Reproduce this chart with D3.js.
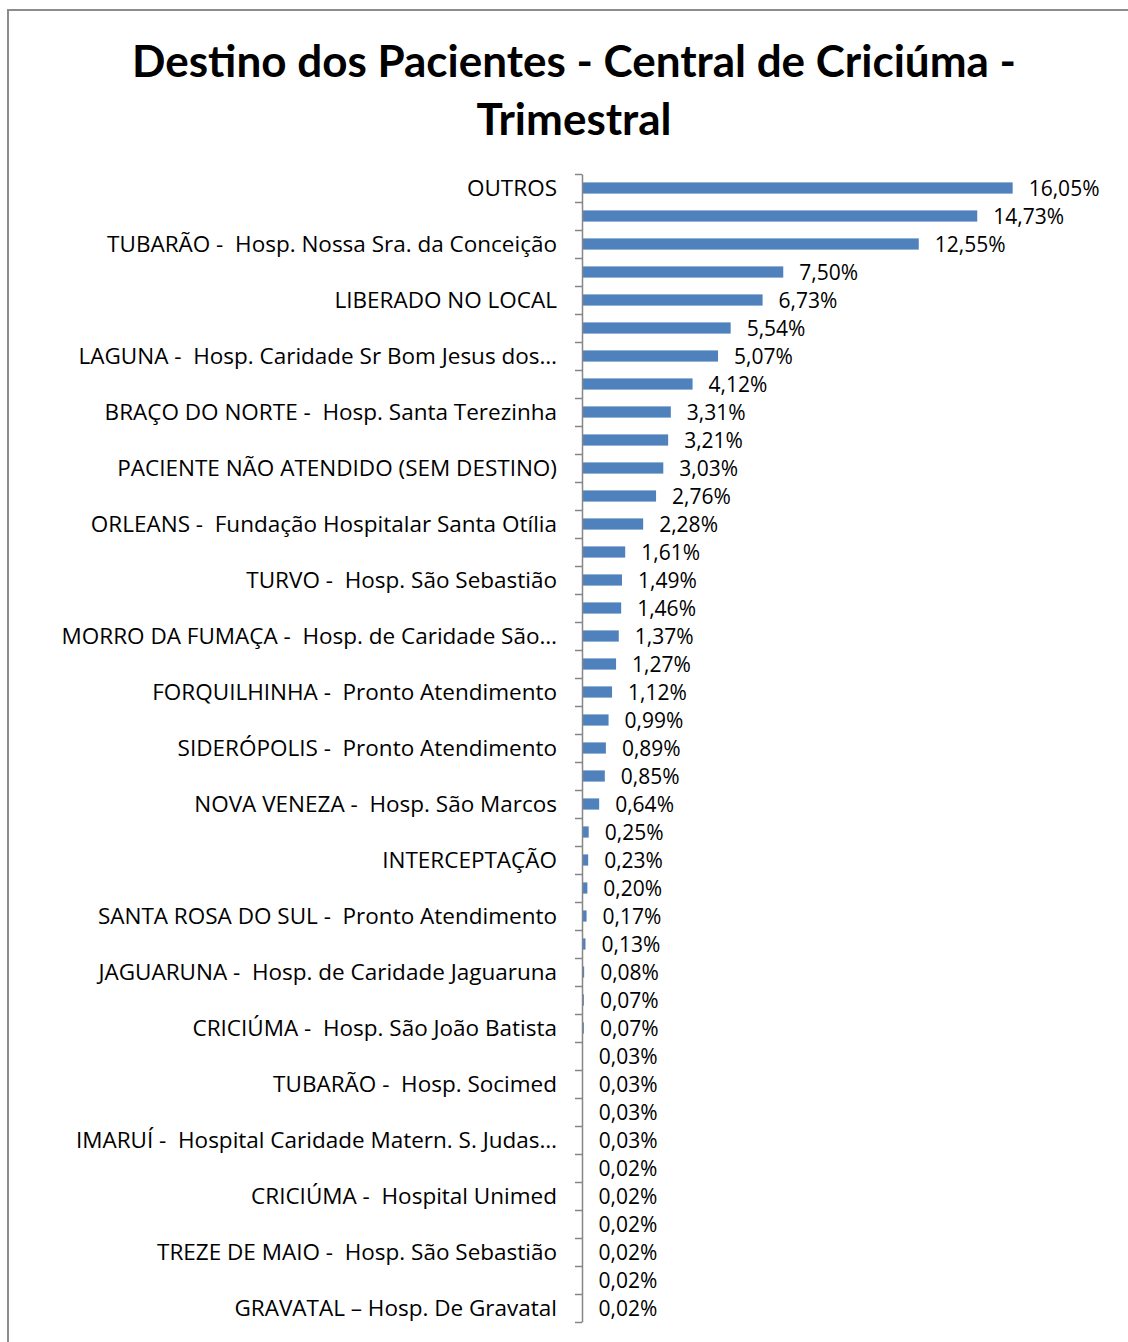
<!DOCTYPE html>
<html lang="pt">
<head>
<meta charset="utf-8">
<style>
  body { margin: 0; background: white; }
  svg { font-family: 'Lato', 'Open Sans', sans-serif; }
  .frame { fill: none; stroke: #8c8c8c; stroke-width: 2px; }
  .axis path, .axis line { stroke: #868686; stroke-width: 1.5px; }
  .bar { fill: #4f81bd; }
  .cat, .val { fill: #000; font-family: 'Open Sans', sans-serif; white-space: pre; }
  .cat { font-size: 22.5px; }
  .val { font-size: 21px; }
  .title { font-weight: bold; font-size: 44px; fill: #000; }
</style>
</head>
<body>
<svg width="1128" height="1342"></svg>
<script src="https://d3js.org/d3.v7.min.js"></script>
<script>
// every other category label is hidden in the original chart
var categories = [
  "OUTROS", "",
  "TUBARÃO -  Hosp. Nossa Sra. da Conceição", "",
  "LIBERADO NO LOCAL", "",
  "LAGUNA -  Hosp. Caridade Sr Bom Jesus dos…", "",
  "BRAÇO DO NORTE -  Hosp. Santa Terezinha", "",
  "PACIENTE NÃO ATENDIDO (SEM DESTINO)", "",
  "ORLEANS -  Fundação Hospitalar Santa Otília", "",
  "TURVO -  Hosp. São Sebastião", "",
  "MORRO DA FUMAÇA -  Hosp. de Caridade São…", "",
  "FORQUILHINHA -  Pronto Atendimento", "",
  "SIDERÓPOLIS -  Pronto Atendimento", "",
  "NOVA VENEZA -  Hosp. São Marcos", "",
  "INTERCEPTAÇÃO", "",
  "SANTA ROSA DO SUL -  Pronto Atendimento", "",
  "JAGUARUNA -  Hosp. de Caridade Jaguaruna", "",
  "CRICIÚMA -  Hosp. São João Batista", "",
  "TUBARÃO -  Hosp. Socimed", "",
  "IMARUÍ -  Hospital Caridade Matern. S. Judas…", "",
  "CRICIÚMA -  Hospital Unimed", "",
  "TREZE DE MAIO -  Hosp. São Sebastião", "",
  "GRAVATAL – Hosp. De Gravatal"
];
var values = [
  16.05, 14.73, 12.55, 7.50, 6.73, 5.54, 5.07, 4.12, 3.31, 3.21,
  3.03, 2.76, 2.28, 1.61, 1.49, 1.46, 1.37, 1.27, 1.12, 0.99,
  0.89, 0.85, 0.64, 0.25, 0.23, 0.20, 0.17, 0.13, 0.08, 0.07,
  0.07, 0.03, 0.03, 0.03, 0.03, 0.02, 0.02, 0.02, 0.02, 0.02,
  0.02
];
var titleLines = ["Destino dos Pacientes - Central de Criciúma -", "Trimestral"];

var svg = d3.select("svg");

svg.append("rect").attr("class", "frame")
  .attr("x", 8).attr("y", 10).attr("width", 1200).attr("height", 1400);

svg.selectAll(".title").data(titleLines).enter().append("text")
  .attr("class", "title")
  .attr("x", 574)
  .attr("y", (d, i) => 77 + i * 58)
  .attr("text-anchor", "middle")
  .text(d => d);

var idx = d3.range(values.length);
var plotLeft = 582, plotTop = 174, plotBottom = 1322;

var x = d3.scaleLinear().domain([0, 18]).range([plotLeft, plotLeft + 483]);
var y = d3.scaleBand().domain(idx).range([plotTop, plotBottom]).paddingInner(0.6).paddingOuter(0.3);
var yEdge = d3.scaleLinear().domain([0, values.length]).range([plotTop, plotBottom]);

svg.selectAll(".bar").data(idx).enter().append("rect")
  .attr("class", "bar")
  .attr("x", x(0))
  .attr("y", i => y(i))
  .attr("width", i => x(values[i]) - x(0))
  .attr("height", y.bandwidth());

var center = i => yEdge(i + 0.5);

svg.selectAll(".val").data(idx).enter().append("text")
  .attr("class", "val")
  .attr("x", i => x(values[i]) + 16)
  .attr("y", center)
  .attr("dy", "0.36em")
  .text(i => values[i].toFixed(2).replace(".", ",") + "%");

svg.selectAll(".cat").data(idx.filter(i => categories[i])).enter().append("text")
  .attr("class", "cat")
  .attr("x", 557)
  .attr("y", center)
  .attr("dy", "0.36em")
  .attr("text-anchor", "end")
  .text(i => categories[i]);

svg.append("g").attr("class", "axis")
  .attr("transform", `translate(${plotLeft},0)`)
  .call(d3.axisLeft(yEdge).tickValues(d3.range(values.length + 1)).tickFormat("").tickSize(7).tickSizeOuter(0));
</script>
</body>
</html>
